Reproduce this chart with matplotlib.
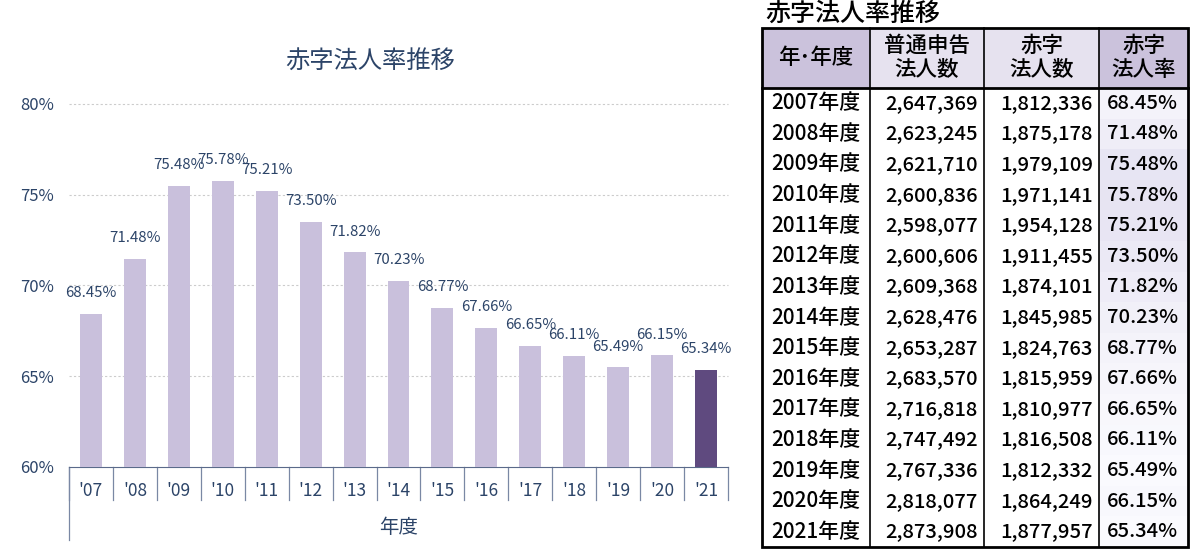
import matplotlib.pyplot as plt
import matplotlib.transforms as mtransforms
from matplotlib.patches import Rectangle
import numpy as np

plt.rcParams['font.family'] = ['Noto Sans CJK JP', 'DejaVu Sans']

# データ
years = ['2007', '2008', '2009', '2010', '2011', '2012', '2013', '2014',
         '2015', '2016', '2017', '2018', '2019', '2020', '2021']
tick_labels = ["'07", "'08", "'09", "'10", "'11", "'12", "'13", "'14",
               "'15", "'16", "'17", "'18", "'19", "'20", "'21"]
filers = [2647369, 2623245, 2621710, 2600836, 2598077, 2600606, 2609368, 2628476,
          2653287, 2683570, 2716818, 2747492, 2767336, 2818077, 2873908]
deficit = [1812336, 1875178, 1979109, 1971141, 1954128, 1911455, 1874101, 1845985,
           1824763, 1815959, 1810977, 1816508, 1812332, 1864249, 1877957]
rates = [68.45, 71.48, 75.48, 75.78, 75.21, 73.50, 71.82, 70.23,
         68.77, 67.66, 66.65, 66.11, 65.49, 66.15, 65.34]
header = ['年･年度', '普通申告\n法人数', '赤字\n法人数', '赤字\n法人率']

navy = '#2c4468'
light = '#c9c0dc'
dark = '#5f4a7f'

fig = plt.figure(figsize=(12, 5.59), dpi=100)

# 棒グラフ
ax = fig.add_axes([69 / 1200, 92 / 559, 659 / 1200, 363 / 559])
x = np.arange(len(rates))
colors = [light] * (len(rates) - 1) + [dark]
ax.bar(x, [r - 60 for r in rates], bottom=60, width=0.5, color=colors, zorder=3)
for xi, r in zip(x, rates):
    ax.annotate(f'{r:.2f}%', (xi, r), xytext=(0, 15), textcoords='offset points',
                ha='center', va='center', fontsize=10.8, color=navy)

ax.set_xlim(-0.5, len(rates) - 0.5)
ax.set_ylim(60, 80)
ax.set_yticks([60, 65, 70, 75, 80])
ax.set_yticklabels(['60%', '65%', '70%', '75%', '80%'])
ax.tick_params(axis='y', length=0, pad=11, labelsize=12, labelcolor=navy)
ax.set_xticks(x)
ax.set_xticklabels(tick_labels)
ax.tick_params(axis='x', length=0, pad=11, labelsize=12.5, labelcolor=navy)
for gy in [65, 70, 75, 80]:
    ax.axhline(gy, color='#cccccc', lw=0.8, ls=(0, (2, 2)), zorder=1, clip_on=False)
for s in ['top', 'right', 'left']:
    ax.spines[s].set_visible(False)
ax.spines['bottom'].set_color('#5a6a8a')

trans = mtransforms.blended_transform_factory(ax.transData, ax.transAxes)
for b in np.arange(-0.5, len(rates), 1.0):
    ax.plot([b, b], [0, -0.092], color='#7a88a4', lw=0.9, transform=trans, clip_on=False)
ax.plot([-0.5, -0.5], [0, -0.2], color='#7a88a4', lw=0.9, transform=trans, clip_on=False)
ax.set_xlabel('年度', fontsize=14, color=navy, labelpad=12)

fig.text(370 / 1200, 1 - 61 / 559, '赤字法人率推移', ha='center', va='center',
         fontsize=17.5, color=navy)

# 表
tx = fig.add_axes([0, 0, 1, 1])
tx.set_xlim(0, 1200)
tx.set_ylim(559, 0)
tx.axis('off')
fig.text(765 / 1200, 1 - 14 / 559, '赤字法人率推移', ha='left', va='center',
         fontsize=18, color='black', fontweight='medium')

cols = [762, 870, 984, 1099, 1188]
top, head_bot = 28, 88
row_h = (547 - head_bot) / len(years)
head_colors = ['#cbc2dc', '#e6e2ef', '#e6e2ef', '#cbc2dc']
for j in range(4):
    tx.add_patch(Rectangle((cols[j], top), cols[j + 1] - cols[j], head_bot - top,
                           facecolor=head_colors[j], edgecolor='none'))
    tx.text((cols[j] + cols[j + 1]) / 2, (top + head_bot) / 2, header[j],
            ha='center', va='center', fontsize=15.5, linespacing=1.15,
            fontweight='medium')

rmin, rmax = min(rates), max(rates)
c_lo = np.array([0.98, 0.98, 0.995])
c_hi = np.array([0.905, 0.895, 0.95])
for i in range(len(years)):
    y0 = head_bot + i * row_h
    yc = y0 + row_h / 2
    t = (rates[i] - rmin) / (rmax - rmin)
    tx.add_patch(Rectangle((cols[3], y0), cols[4] - cols[3], row_h,
                           facecolor=c_lo + (c_hi - c_lo) * t, edgecolor='none'))
    tx.text((cols[0] + cols[1]) / 2, yc, years[i] + '年度', ha='center', va='center',
            fontsize=15, fontweight='medium')
    tx.text(cols[2] - 6, yc, f'{filers[i]:,}', ha='right', va='center',
            fontsize=14.5, fontweight='medium')
    tx.text(cols[3] - 6, yc, f'{deficit[i]:,}', ha='right', va='center',
            fontsize=14.5, fontweight='medium')
    tx.text(cols[4] - 10, yc, f'{rates[i]:.2f}%', ha='right', va='center',
            fontsize=14.5, fontweight='medium')

for cx in cols[1:-1]:
    tx.plot([cx, cx], [top, 547], color='black', lw=1.2)
tx.plot([cols[0], cols[-1]], [head_bot, head_bot], color='black', lw=2)
tx.add_patch(Rectangle((cols[0], top), cols[-1] - cols[0], 547 - top,
                       facecolor='none', edgecolor='black', lw=2))

fig.savefig('out.png', dpi=100)
